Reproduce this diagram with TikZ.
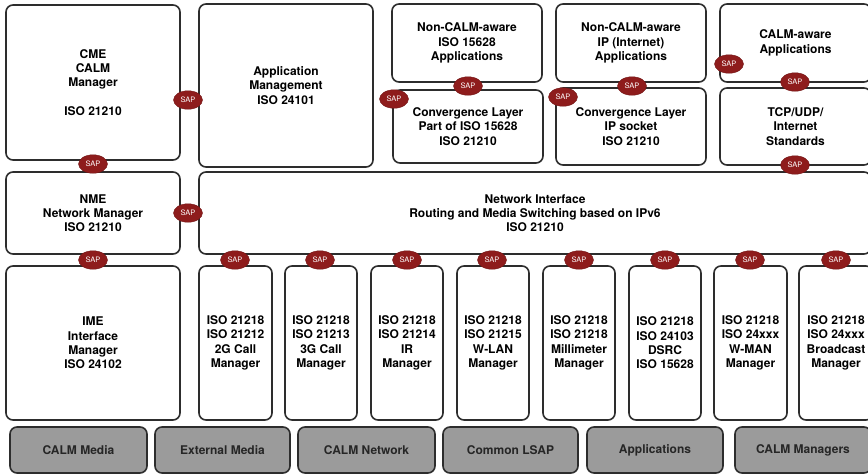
\documentclass[tikz,border=0pt]{standalone}
\usepackage{fontspec}
\setmainfont{TeX Gyre Heros}
\usetikzlibrary{shapes.geometric}
\definecolor{sapred}{RGB}{142,28,28}
\definecolor{edge}{RGB}{45,45,45}
\definecolor{legendgray}{RGB}{155,155,155}
\tikzset{
  blk/.style={draw=edge, line width=1.6pt, rounded corners=7pt, fill=white,
    align=center, font=\bfseries\fontsize{12}{14.3}\selectfont, inner sep=0pt},
  legend/.style={blk, fill=legendgray, text=black!85},
  sap/.style={ellipse, fill=sapred, draw=sapred!80!black, line width=0.4pt,
    minimum width=29pt, minimum height=18.5pt, inner sep=0pt, text=white,
    font=\fontsize{7.5}{7.5}\selectfont},
}
% block from corner (x1,y1) to corner (x2,y2), y measured downwards
\newcommand\blk[7]{%
  \pgfmathsetmacro\bw{#5-#3}\pgfmathsetmacro\bh{#6-#4}%
  \node[#1, minimum width=\bw pt, minimum height=\bh pt] (#2)
    at ({(#3+#5)/2},{(#4+#6)/2}) {#7};}
\begin{document}
\begin{tikzpicture}[x=1pt,y=-1pt]
\useasboundingbox (0,0) rectangle (868,475);
% management and application layer
\blk{blk}{cme}{6}{5}{180}{160}{CME\\CALM\\Manager\\[14.3pt]ISO 21210}
\blk{blk}{appm}{199}{4}{373}{167}{Application\\Management\\ISO 24101}
\blk{blk}{nc15628}{392}{4}{542}{82}{Non-CALM-aware\\ISO 15628\\Applications}
\blk{blk}{ncip}{556}{4}{706}{82}{Non-CALM-aware\\IP (Internet)\\Applications}
\blk{blk}{caware}{720}{4}{871}{82}{CALM-aware\\Applications}
\blk{blk}{conv15628}{393}{90}{543}{163}{Convergence Layer\\Part of ISO 15628\\ISO 21210}
\blk{blk}{convip}{556}{88}{706}{165}{Convergence Layer\\IP socket\\ISO 21210}
\blk{blk}{tcp}{720}{88}{871}{165}{TCP/UDP/\\Internet\\Standards}
% network layer
\blk{blk}{nme}{6}{172}{180}{254}{NME\\Network Manager\\ISO 21210}
\blk{blk}{netif}{199}{172}{871}{254}{Network Interface\\Routing and Media Switching based on IPv6\\ISO 21210}
% interface managers
\blk{blk}{ime}{6}{266}{180}{420}{IME\\Interface\\Manager\\ISO 24102}
\blk{blk}{m2g}{199}{266}{272}{420}{ISO 21218\\ISO 21212\\2G Call\\Manager}
\blk{blk}{m3g}{285}{266}{357}{420}{ISO 21218\\ISO 21213\\3G Call\\Manager}
\blk{blk}{mir}{371}{266}{443}{420}{ISO 21218\\ISO 21214\\IR\\Manager}
\blk{blk}{mwlan}{457}{266}{529}{420}{ISO 21218\\ISO 21215\\W-LAN\\Manager}
\blk{blk}{mmm}{543}{266}{615}{420}{ISO 21218\\ISO 21218\\Millimeter\\Manager}
\blk{blk}{mdsrc}{629}{266}{701}{420}{ISO 21218\\ISO 24103\\DSRC\\ISO 15628}
\blk{blk}{mwman}{714}{266}{787}{420}{ISO 21218\\ISO 24xxx\\W-MAN\\Manager}
\blk{blk}{mbc}{799}{266}{873}{420}{ISO 21218\\ISO 24xxx\\Broadcast\\Manager}
% legend
\blk{legend}{lmedia}{10}{427}{147}{473}{CALM Media}
\blk{legend}{lext}{155}{427}{290}{473}{External Media}
\blk{legend}{lnet}{298}{427}{435}{473}{CALM Network}
\blk{legend}{llsap}{443}{427}{578}{473}{Common LSAP}
\blk{legend}{lapps}{587}{427}{723}{473}{Applications}
\blk{legend}{lmgr}{735}{427}{871}{473}{CALM Managers}
% service access points
\node[sap] (s1) at (93,164) {SAP};
\node[sap] (s2) at (188,100) {SAP};
\node[sap] (s3) at (188,213) {SAP};
\node[sap] (s4) at (93,260) {SAP};
\node[sap] (s5) at (468,86) {SAP};
\node[sap] (s6) at (632,86) {SAP};
\node[sap] (s7) at (795,82) {SAP};
\node[sap] (s8) at (795,165) {SAP};
\node[sap] (s9) at (394,99) {SAP};
\node[sap] (s10) at (563,97) {SAP};
\node[sap] (s11) at (729,64) {SAP};
\foreach \n/\x in {a/235,b/320,c/407,d/492,e/579,f/665,g/750,h/836}
  \node[sap] (c\n) at (\x,260) {SAP};
\end{tikzpicture}
\end{document}
